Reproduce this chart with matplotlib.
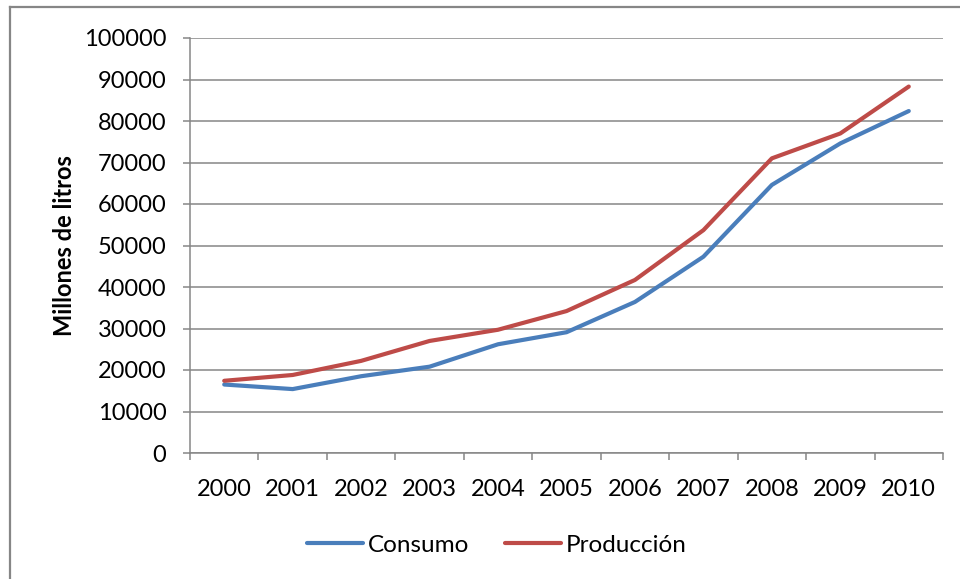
import numpy as np
import matplotlib.pyplot as plt
from matplotlib.lines import Line2D

# datos (millones de litros)
years = ["2000", "2001", "2002", "2003", "2004", "2005",
         "2006", "2007", "2008", "2009", "2010"]
consumo = [16500, 15400, 18500, 20800, 26200, 29100,
           36400, 47300, 64600, 74600, 82400]
produccion = [17400, 18800, 22200, 27000, 29700, 34200,
              41700, 53700, 71000, 77000, 88300]

plt.rcParams['font.family'] = ['Lato', 'DejaVu Sans']

grey = "#868686"

fig = plt.figure(figsize=(9.6, 5.79), dpi=100)
ax = fig.add_axes([190 / 960, 1 - 453 / 579, 753 / 960, 415 / 579])

x = np.arange(len(years))
ax.plot(x, consumo, color="#4A7EBB", lw=3.0, label="Consumo", solid_capstyle="round")
ax.plot(x, produccion, color="#BE4B48", lw=3.0, label="Producción", solid_capstyle="round")

ax.set_xlim(-0.5, len(years) - 0.5)
ax.set_ylim(0, 100000)
ax.set_yticks(np.arange(0, 100001, 10000))
ax.set_xticks(x)
ax.set_xticklabels(years)
ax.set_xticks(np.arange(-0.5, len(years), 1), minor=True)

ax.grid(axis="y", color=grey, lw=1.1)
ax.set_axisbelow(True)
for s in ["top", "right"]:
    ax.spines[s].set_visible(False)
for s in ["left", "bottom"]:
    ax.spines[s].set_color(grey)
    ax.spines[s].set_linewidth(1.1)

ax.tick_params(axis="x", which="major", length=0, pad=19, labelsize=17)
ax.tick_params(axis="x", which="minor", length=5, color=grey, width=1.1)
ax.tick_params(axis="y", length=5, color=grey, width=1.1, pad=12, labelsize=17)

ax.set_ylabel("Millones de litros", fontsize=17, fontweight="bold", labelpad=6)

fig.legend(loc="center", bbox_to_anchor=(497 / 960, 1 - 545 / 579), ncol=2,
           frameon=False, fontsize=17.5, handlelength=2.3, handletextpad=0.2,
           columnspacing=1.5)

# borde del area del grafico
fig.add_artist(Line2D([10 / 960, 10 / 960], [0, 1 - 7 / 579], color=grey, lw=1.6))
fig.add_artist(Line2D([10 / 960, 1], [1 - 7 / 579, 1 - 7 / 579], color=grey, lw=1.6))

fig.savefig("out.png", dpi=100)
